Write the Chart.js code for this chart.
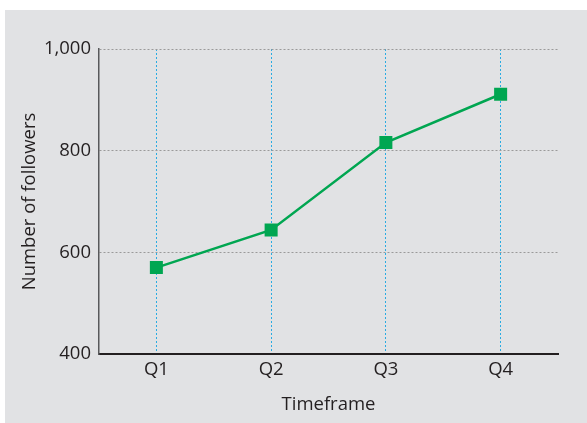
<!DOCTYPE html>
<html>
<head>
<meta charset="utf-8">
<script src="https://cdn.jsdelivr.net/npm/chart.js@4"></script>
<style>
  body { margin: 0; background: #ffffff; }
  #box { position: absolute; left: 5px; top: 10px; width: 582px; height: 413px; background: #e1e2e4; }
</style>
</head>
<body>
<div id="box"><canvas id="MyChart" width="582" height="413"></canvas></div>
<script>
const quarters = ["Q1", "Q2", "Q3", "Q4"];
const followers = [570, 644, 816, 911];
const yTicks = [400, 600, 800, 1000];

const ctx = document.getElementById("MyChart").getContext("2d");
const font = { family: "'Open Sans', sans-serif", size: 18.5 };

new Chart(ctx, {
    type: "line",
    data: {
        labels: quarters,
        datasets: [
            {
                label: "Followers",
                data: followers,
                borderColor: "#00a651",
                backgroundColor: "#00a651",
                borderWidth: 2.5,
                pointStyle: "rect",
                pointRadius: 9.2,
                pointHoverRadius: 9.2,
                pointBorderWidth: 0,
                tension: 0
            }
        ]
    },
    options: {
        responsive: false,
        animation: false,
        layout: { padding: { left: 0, top: 39, right: 29, bottom: 0 } },
        plugins: { legend: { display: false }, tooltip: { enabled: false } },
        scales: {
            x: {
                offset: true,
                grid: { offset: false, color: quarters.map(() => "#29abe2"), lineWidth: 1, drawTicks: false },
                border: { color: "#231f20", width: 2, dash: [2, 2] },
                ticks: { color: "#231f20", font: font, padding: 5 },
                title: { display: true, text: "Timeframe", color: "#231f20", font: font, padding: { top: 0, bottom: 7.5 } },
                afterFit: (s) => { s.height = 69; }
            },
            y: {
                min: 400,
                max: 1000,
                afterBuildTicks: (s) => { s.ticks = yTicks.map(v => ({ value: v })); },
                grid: { color: "#9a9a9a", lineWidth: 1, drawTicks: false },
                border: { color: "#58595b", width: 1.5, dash: [2, 2] },
                ticks: { color: "#231f20", font: font, padding: 8 },
                title: { display: true, text: "Number of followers", color: "#231f20", font: font, padding: { top: 14, bottom: 0 } },
                afterFit: (s) => { s.width = 94; }
            }
        }
    }
});
</script>
</body>
</html>
